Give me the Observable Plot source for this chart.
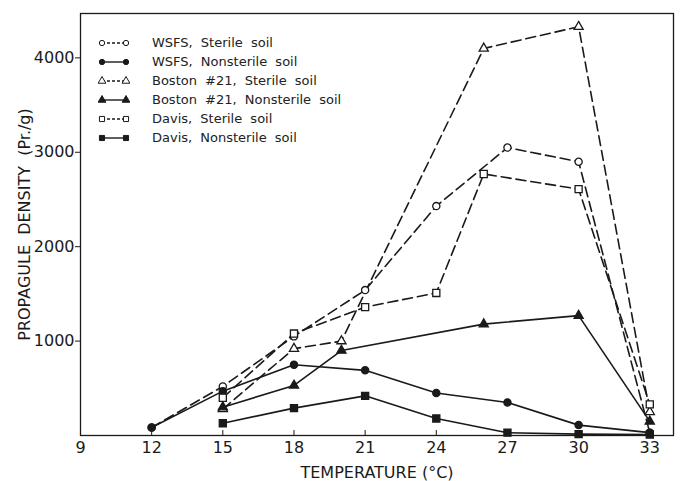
<!DOCTYPE html>
<html>
<head>
<meta charset="utf-8">
<script src="https://cdn.jsdelivr.net/npm/d3@7"></script>
<script src="https://cdn.jsdelivr.net/npm/@observablehq/plot@0.6"></script>
<style>
  body { margin: 0; background: #fff; }
  #wrap { position: relative; width: 682px; height: 481px; font-family: "DejaVu Sans", sans-serif; }
  #legend { position: absolute; left: 98px; top: 33px; font-size: 13px; color: #222; }
  .row { height: 19px; display: flex; align-items: center; }
  .row svg { margin-right: 22px; }
  .row span { word-spacing: 4px; }
</style>
</head>
<body>
<div id="wrap"><div id="legend"></div></div>
<script>
// Temperatures (°C)
const tempsA = [12, 15, 18, 21, 24, 27, 30, 33];
const tempsB = [15, 18, 20, 26, 30, 33];
const tempsC = [15, 18, 21, 24, 26, 30, 33];
const tempsD = [15, 18, 21, 24, 27, 30, 33];

// Propagule density (Pr./g)
const wsfsSterile     = [85, 520, 1050, 1540, 2430, 3050, 2900, 30];
const wsfsNonsterile  = [85, 470, 750, 690, 450, 350, 110, 30];
const bostonSterile   = [280, 920, 1000, 4100, 4330, 250];
const bostonNonsterile= [300, 530, 900, 1180, 1270, 150];
const davisSterile    = [400, 1080, 1360, 1510, 2770, 2610, 330];
const davisNonsterile = [130, 290, 420, 180, 30, 15, 10];

const seriesNames = [
  "WSFS, Sterile soil",
  "WSFS, Nonsterile soil",
  "Boston #21, Sterile soil",
  "Boston #21, Nonsterile soil",
  "Davis, Sterile soil",
  "Davis, Nonsterile soil"
];
const xTicks = [9, 12, 15, 18, 21, 24, 27, 30, 33];
const yTicks = [1000, 2000, 3000, 4000];

const series = [
  {name: seriesNames[0], x: tempsA, y: wsfsSterile, symbol: "circle", filled: false, dashed: true, r: 3.6},
  {name: seriesNames[1], x: tempsA, y: wsfsNonsterile, symbol: "circle", filled: true, dashed: false, r: 3.6},
  {name: seriesNames[2], x: tempsB, y: bostonSterile, symbol: "triangle", filled: false, dashed: true, r: 3.4},
  {name: seriesNames[3], x: tempsB, y: bostonNonsterile, symbol: "triangle", filled: true, dashed: false, r: 3.4},
  {name: seriesNames[4], x: tempsC, y: davisSterile, symbol: "square", filled: false, dashed: true, r: 4.0},
  {name: seriesNames[5], x: tempsD, y: davisNonsterile, symbol: "square", filled: true, dashed: false, r: 4.0}
];

const ink = "#1a1a1a";
const marks = [];
series.forEach(s => {
  const data = s.x.map((t, i) => ({t, v: s.y[i]}));
  marks.push(Plot.line(data, {x: "t", y: "v", stroke: ink, strokeWidth: 1.6,
    strokeDasharray: s.dashed ? "10,5" : null}));
});
series.forEach(s => {
  const data = s.x.map((t, i) => ({t, v: s.y[i]}));
  marks.push(Plot.dot(data, {x: "t", y: "v", symbol: () => s.symbol, r: s.r,
    fill: s.filled ? ink : "white", stroke: ink, strokeWidth: 1.3}));
});

const chart = Plot.plot({
  width: 682,
  height: 481,
  marginLeft: 80,
  marginRight: 9,
  marginTop: 13,
  marginBottom: 46,
  style: {fontFamily: "DejaVu Sans, sans-serif", color: ink, background: "white"},
  symbol: {type: "identity"},
  x: {domain: [9, 34]},
  y: {domain: [0, 4470]},
  marks: [
    Plot.frame({stroke: ink, strokeWidth: 1.3}),
    Plot.axisX({ticks: xTicks, tickSize: 0, tickPadding: 6, fontSize: 16, tickFormat: d3.format("d"),
      label: "TEMPERATURE (°C)", labelAnchor: "center", labelOffset: 42, labelArrow: "none"}),
    Plot.axisX({ticks: xTicks.slice(1), tickSize: 5, dy: -5, text: null, label: null, stroke: ink}),
    Plot.axisY({ticks: yTicks, tickSize: 5, tickPadding: 1, fontSize: 16, tickFormat: d3.format("d"),
      label: "PROPAGULE  DENSITY  (Pr./g)", labelAnchor: "center", labelOffset: 62, labelArrow: "none"}),
    ...marks
  ]
});
document.getElementById("wrap").prepend(chart);

// Legend
const legend = document.getElementById("legend");
series.forEach(s => {
  const row = document.createElement("div");
  row.className = "row";
  const w = 32, h = 12;
  const sym = d3.symbol().type(s.symbol === "circle" ? d3.symbolCircle : s.symbol === "triangle" ? d3.symbolTriangle : d3.symbolSquare).size(s.symbol === "circle" ? 22 : 26);
  const fill = s.filled ? ink : "white";
  row.innerHTML = `<svg width="${w}" height="${h}">
    <line x1="4" y1="6" x2="${w-4}" y2="6" stroke="${ink}" stroke-width="1.4" ${s.dashed ? 'stroke-dasharray="3,2"' : ''}/>
    <path d="${sym()}" transform="translate(4,6)" fill="${fill}" stroke="${ink}" stroke-width="1"/>
    <path d="${sym()}" transform="translate(${w-4},6)" fill="${fill}" stroke="${ink}" stroke-width="1"/>
  </svg><span>${s.name}</span>`;
  legend.appendChild(row);
});
</script>
</body>
</html>
